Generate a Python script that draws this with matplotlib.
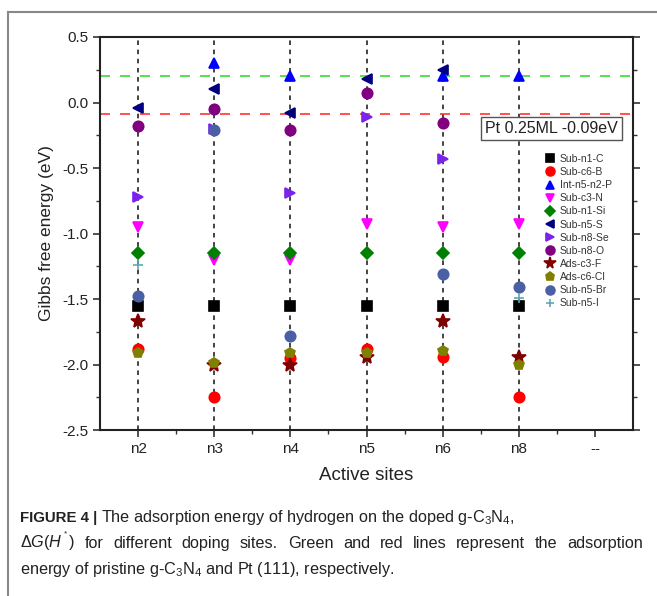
import numpy as np
import matplotlib
matplotlib.use('Agg')
import matplotlib.pyplot as plt
from matplotlib.lines import Line2D

plt.rcParams['font.family'] = ['Liberation Sans', 'DejaVu Sans']
plt.rcParams['mathtext.fontset'] = 'custom'
plt.rcParams['mathtext.rm'] = 'Liberation Sans'
plt.rcParams['mathtext.it'] = 'Liberation Sans:italic'
plt.rcParams['mathtext.bf'] = 'Liberation Sans:bold'

nan = np.nan
sites = ['n2', 'n3', 'n4', 'n5', 'n6', 'n8', '--']

sub_n1_c = [-1.55, -1.55, -1.55, -1.55, -1.55, -1.55, nan]
sub_c6_b = [-1.88, -2.25, -1.95, -1.88, -1.94, -2.25, nan]
int_n5_n2_p = [nan, 0.30, 0.20, nan, 0.20, 0.20, nan]
sub_c3_n = [-0.95, -1.20, -1.20, -0.93, -0.95, -0.93, nan]
sub_n1_si = [-1.15, -1.15, -1.15, -1.15, -1.15, -1.15, nan]
sub_n5_s = [-0.04, 0.10, -0.08, 0.18, 0.25, nan, nan]
sub_n8_se = [-0.72, -0.20, -0.69, -0.11, -0.43, nan, nan]
sub_n8_o = [-0.18, -0.05, -0.21, 0.07, -0.16, nan, nan]
ads_c3_f = [-1.67, -2.00, -2.00, -1.94, -1.67, -1.94, nan]
ads_c6_cl = [-1.91, -1.99, -1.91, -1.91, -1.90, -2.00, nan]
sub_n5_br = [-1.48, -0.21, -1.78, nan, -1.31, -1.41, nan]
sub_n5_i = [-1.24, nan, nan, nan, nan, -1.49, nan]

pristine = 0.20
pt_111 = -0.09

series = [
    ('Sub-n1-C', sub_n1_c, 's', '#000000'),
    ('Sub-c6-B', sub_c6_b, 'o', '#ff0000'),
    ('Int-n5-n2-P', int_n5_n2_p, '^', '#0000ff'),
    ('Sub-c3-N', sub_c3_n, 'v', '#ff00ff'),
    ('Sub-n1-Si', sub_n1_si, 'D', '#008000'),
    ('Sub-n5-S', sub_n5_s, '<', '#000080'),
    ('Sub-n8-Se', sub_n8_se, '>', '#7b22ee'),
    ('Sub-n8-O', sub_n8_o, 'o', '#800080'),
    ('Ads-c3-F', ads_c3_f, '*', '#800000'),
    ('Ads-c6-Cl', ads_c6_cl, 'p', '#808000'),
    ('Sub-n5-Br', sub_n5_br, 'o', '#4b5fa5'),
    ('Sub-n5-I', sub_n5_i, '+', '#5fa8b0'),
]

W, H = 657, 596
fig = plt.figure(figsize=(W / 100, H / 100), dpi=100)
ax = fig.add_axes([100 / W, 166 / H, 533 / W, 393 / H])

x = np.arange(len(sites))
for xi in x[:-1]:
    ax.axvline(xi, color='#111111', ls=(0, (3, 3)), lw=1.1, zorder=1)
ax.axhline(pristine, color='#33dd33', ls=(0, (6, 6)), lw=1.2, zorder=1)
ax.axhline(pt_111, color='#ff3333', ls=(0, (6, 6)), lw=1.2, zorder=1)

for name, vals, mk, col in series:
    ms = 10 if mk == '*' else 7.5
    if mk == 'D':
        ms = 6.5
    ax.plot(x, vals, ls='none', marker=mk, color=col, ms=ms, mew=1.2,
            label=name, zorder=3)

ax.set_xlim(-0.5, 6.5)
ax.set_ylim(-2.5, 0.5)
ax.set_xticks(x)
ax.set_xticklabels(sites)
ax.set_xticks(x[:-1] + 0.5, minor=True)
ax.set_yticks(np.arange(-2.5, 0.51, 0.5))
ax.set_yticks(np.arange(-2.25, 0.5, 0.5), minor=True)
ax.yaxis.set_major_formatter(matplotlib.ticker.FormatStrFormatter('%.1f'))
ax.tick_params(which='both', direction='out', top=False, right=True,
               labelsize=11, colors='#333333', labelcolor='#222222')
ax.tick_params(which='major', length=5, width=1.2)
ax.tick_params(which='minor', length=3, width=1)
for sp in ax.spines.values():
    sp.set_linewidth(1.5)
    sp.set_color('#222222')

ax.set_ylabel('Gibbs free energy (eV)', fontsize=12.5, color='#222222', labelpad=6)
ax.set_xlabel('Active sites', fontsize=13.5, color='#222222', labelpad=8)

ax.text(5.43, -0.2, 'Pt 0.25ML -0.09eV', fontsize=11.5, ha='center', va='center',
        color='#222222', zorder=5,
        bbox=dict(boxstyle='square,pad=0.25', fc='white', ec='#555555', lw=1))

ax.legend(loc='upper left', bbox_to_anchor=(0.825, 0.713), frameon=False,
          fontsize=7.5, labelspacing=0.3, handletextpad=0.3, handlelength=1.2,
          borderaxespad=0, markerscale=0.85, labelcolor='#333333')

# outer frame of the figure panel
fig.add_artist(Line2D([8 / W, 8 / W], [0, 1 - 12 / H], color='#888888', lw=1.5))
fig.add_artist(Line2D([8 / W, 1], [1 - 12 / H, 1 - 12 / H], color='#888888', lw=1.5))

# caption
cap_fs = 11.7
fig.canvas.draw()
r = fig.canvas.get_renderer()
t0 = fig.text(20 / W, 1 - 522 / H, 'FIGURE 4 |', fontsize=10.8, weight='bold',
              color='#222222', va='baseline')
bb = t0.get_window_extent(renderer=r)
fig.text(bb.x1 / W + 4 / W, 1 - 522 / H,
         'The adsorption energy of hydrogen on the doped g-C$_3$N$_4$,',
         fontsize=cap_fs, color='#222222', va='baseline')

# second caption line is justified to the full text width
words = [r'$\Delta G(H^{^*})$', 'for', 'different', 'doping', 'sites.', 'Green',
         'and', 'red', 'lines', 'represent', 'the', 'adsorption']
arts = [fig.text(0, 1 - 548 / H, w, fontsize=cap_fs, color='#222222', va='baseline')
        for w in words]
widths = [a.get_window_extent(renderer=r).width for a in arts]
x0, x1 = 20, 643
gap = (x1 - x0 - sum(widths)) / (len(words) - 1)
cx = x0
for a, w in zip(arts, widths):
    a.set_x(cx / W)
    cx += w + gap

fig.text(20 / W, 1 - 574 / H,
         'energy of pristine g-C$_3$N$_4$ and Pt (111), respectively.',
         fontsize=cap_fs, color='#222222', va='baseline')

fig.savefig('out.png', dpi=100)
